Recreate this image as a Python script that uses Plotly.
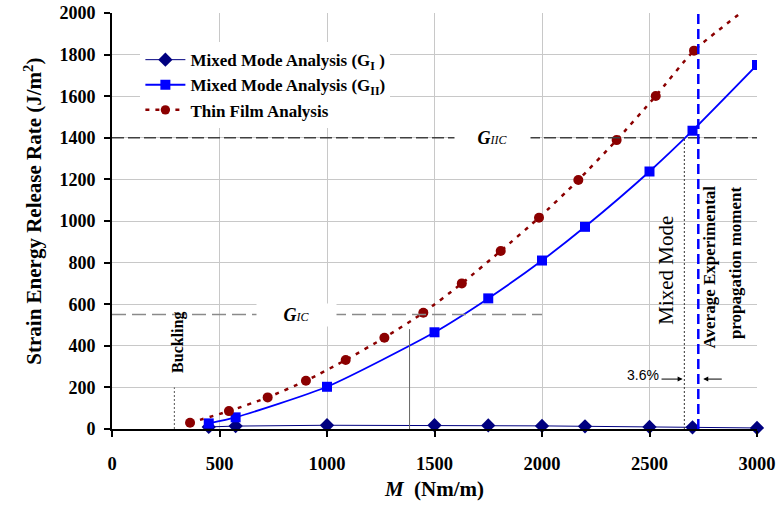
import plotly.graph_objects as go

# ---- data ----
m_gi = [450, 575, 1000, 1500, 1750, 2000, 2200, 2500, 2700, 3000]
g_i = [10, 14, 18, 18, 17, 15, 13, 10, 8, 5]

m_gii = [450, 575, 1000, 1500, 1750, 2000, 2200, 2500, 2700, 3000]
g_ii = [27, 56, 203, 465, 628, 810, 972, 1238, 1434, 1750]

m_tf = [363, 544, 724, 902, 1087, 1267, 1448, 1627, 1808, 1986, 2169, 2347, 2529, 2707]
g_tf = [30, 86, 152, 232, 332, 439, 559, 700, 856, 1016, 1197, 1389, 1601, 1819]
m_tf_trend = [3000]
g_tf_trend = [2060]

x_ticks = [0, 500, 1000, 1500, 2000, 2500, 3000]
y_ticks = [0, 200, 400, 600, 800, 1000, 1200, 1400, 1600, 1800, 2000]

g_ic = 550
g_iic = 1400
m_buckling = 290
m_avg_exp = 2727
m_mixed = 2662
m_cross = 1384

SERIF = "Liberation Serif, Times New Roman, serif"

fig = go.Figure()

fig.add_trace(go.Scatter(
    x=m_gi, y=g_i, mode="lines+markers", name="<b>Mixed Mode Analysis (G<sub>I</sub> )</b>",
    line=dict(color="#000080", width=1),
    marker=dict(symbol="diamond", size=11, color="#000080", opacity=1),
    cliponaxis=False,
))
fig.add_trace(go.Scatter(
    x=m_gii, y=g_ii, mode="lines+markers", name="<b>Mixed Mode Analysis (G<sub>II</sub>)</b>",
    line=dict(color="#0000FF", width=1.8, shape="spline", smoothing=0.6),
    marker=dict(symbol="square", size=10, color="#0000FF", opacity=1),
))
fig.add_trace(go.Scatter(
    x=m_tf + m_tf_trend, y=g_tf + g_tf_trend, mode="lines+markers", name="<b>Thin Film Analysis</b>",
    line=dict(color="#8B0000", width=2.5, dash="4px,6px", shape="spline", smoothing=0.6),
    marker=dict(symbol="circle", size=[10] * len(m_tf) + [0] * len(m_tf_trend),
                color="#8B0000", opacity=1, line=dict(width=0)),
))

shapes = [
    dict(type="line", xref="x", yref="y", x0=0, x1=3000, y0=g_iic, y1=g_iic,
         line=dict(color="#404040", width=1.5, dash="12px,4px"), layer="above"),
    dict(type="line", xref="x", yref="y", x0=0, x1=2000, y0=g_ic, y1=g_ic,
         line=dict(color="#8a8a8a", width=1.5, dash="14px,6px"), layer="above"),
    dict(type="line", xref="x", yref="y", x0=m_buckling, x1=m_buckling, y0=0, y1=200,
         line=dict(color="#555555", width=1, dash="2px,2px"), layer="above"),
    dict(type="line", xref="x", yref="y", x0=m_cross, x1=m_cross, y0=0, y1=480,
         line=dict(color="#666666", width=1), layer="above"),
    dict(type="line", xref="x", yref="y", x0=m_mixed, x1=m_mixed, y0=0, y1=g_iic,
         line=dict(color="#333333", width=1, dash="2px,2px"), layer="above"),
    dict(type="line", xref="x", yref="y", x0=m_avg_exp, x1=m_avg_exp, y0=0, y1=2040,
         line=dict(color="#0000FF", width=2.5, dash="10px,5px"), layer="above"),
]

annotations = [
    # y-axis title
    dict(x=-0.099, y=0.524, xref="paper", yref="paper", xanchor="right", yanchor="middle",
         showarrow=False, textangle=-90,
         text="<b>Strain Energy Release Rate (J/m<sup>2</sup>)</b>",
         font=dict(family=SERIF, size=21, color="black")),
    dict(x=1772, y=g_iic, xref="x", yref="y", showarrow=False,
         text="<i><b>G</b><span style='font-size:12px'>IIC</span></i>",
         font=dict(family=SERIF, size=18, color="black"),
         bgcolor="white", width=73, height=20),
    dict(x=860, y=g_ic, xref="x", yref="y", showarrow=False,
         text="<i><b>G</b><span style='font-size:12px'>IC</span></i>",
         font=dict(family=SERIF, size=18, color="black"),
         bgcolor="white", width=77, height=20),
    dict(x=307, y=414, xref="x", yref="y", showarrow=False, textangle=-90,
         text="<b>Buckling</b>", font=dict(family=SERIF, size=16, color="black")),
    dict(x=2575, y=764, xref="x", yref="y", showarrow=False, textangle=-90,
         text="Mixed Mode", font=dict(family=SERIF, size=21, color="black")),
    dict(x=2780, y=780, xref="x", yref="y", showarrow=False, textangle=-90,
         text="<b>Average Experimental</b>", font=dict(family=SERIF, size=17, color="black")),
    dict(x=2900, y=800, xref="x", yref="y", showarrow=False, textangle=-90,
         text="<b>propagation moment</b>", font=dict(family=SERIF, size=17, color="black")),
    dict(x=2468, y=259, xref="x", yref="y", showarrow=False,
         text="3.6%", font=dict(family="Liberation Sans, Arial, sans-serif", size=14, color="black")),
    dict(x=2654, y=240, ax=2549, ay=240, xref="x", yref="y", axref="x", ayref="y",
         showarrow=True, arrowhead=2, arrowsize=1, arrowwidth=1, arrowcolor="black", text=""),
    dict(x=2750, y=240, ax=2843, ay=240, xref="x", yref="y", axref="x", ayref="y",
         showarrow=True, arrowhead=2, arrowsize=1, arrowwidth=1, arrowcolor="black", text=""),
]

fig.update_layout(
    width=780, height=506,
    margin=dict(l=112, r=23, t=13, b=77),
    paper_bgcolor="white", plot_bgcolor="white",
    font=dict(family=SERIF, color="black"),
    showlegend=True,
    legend=dict(x=0.044, y=0.93, xanchor="left", yanchor="top",
                bgcolor="white", borderwidth=0,
                font=dict(family=SERIF, size=17, color="black"),
                tracegroupgap=0, itemwidth=40),
    shapes=shapes,
    annotations=annotations,
    xaxis=dict(
        range=[0, 3000], tickvals=x_ticks, ticktext=["<b>%d</b>" % v for v in x_ticks],
        showgrid=True, gridcolor="#C8C8C8", gridwidth=1,
        showline=True, linecolor="black", linewidth=2,
        ticks="outside", ticklen=6, tickwidth=2, tickcolor="black",
        tickfont=dict(family=SERIF, size=18.5, color="black"),
        ticklabelstandoff=11, ticklabeloverflow="allow",
        title=dict(text="<b><i>M</i>  (Nm/m)</b>", font=dict(family=SERIF, size=21), standoff=8),
        zeroline=False, automargin=False,
    ),
    yaxis=dict(
        range=[0, 2000], tickvals=y_ticks, ticktext=["<b>%d</b>" % v for v in y_ticks],
        showgrid=True, gridcolor="#C8C8C8", gridwidth=1,
        showline=True, linecolor="black", linewidth=2,
        ticks="outside", ticklen=6, tickwidth=2, tickcolor="black",
        tickfont=dict(family=SERIF, size=18, color="black"),
        ticklabelstandoff=5, ticklabeloverflow="allow",
        zeroline=False, automargin=False,
    ),
)

fig.write_html("out.html", config={"displayModeBar": False},
               post_script="document.body.style.margin='0';")
